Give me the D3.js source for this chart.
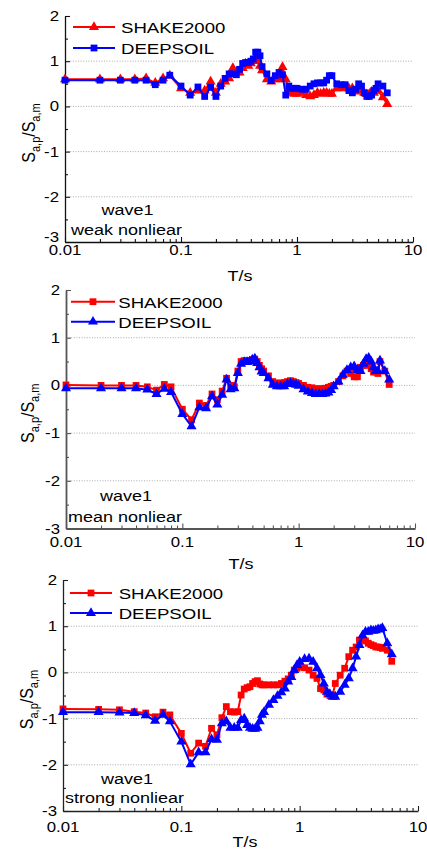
<!DOCTYPE html>
<html><head><meta charset="utf-8">
<script src="https://cdn.jsdelivr.net/npm/d3@7"></script>
<style>body{margin:0;background:#fff}svg{display:block}text{font-family:"Liberation Sans",Arial,sans-serif;fill:#000}</style>
</head><body><svg id="c" width="427" height="851"></svg>
<script>
// ---------- data ----------
const periods = [0.01,0.02,0.03,0.04,0.05,0.06,0.07,0.08,0.1,0.12,0.14,0.16,0.18,0.2,0.22,0.24,0.26,0.28,0.3,0.32,0.34,0.36,0.38,0.4,0.42,0.44,0.46,0.48,0.5,0.55,0.6,0.65,0.7,0.75,0.8,0.85,0.9,0.95,1.0,1.1,1.2,1.3,1.4,1.5,1.6,1.7,1.8,1.9,2.0,2.2,2.4,2.6,2.8,3.0,3.2,3.4,3.6,3.8,4.0,4.2,4.4,4.6,4.8,5.0,5.5,6.0];

const weakShake = [0.60,0.60,0.60,0.60,0.62,0.52,0.62,0.68,
 0.40,0.30,0.35,0.35,0.55,0.30,0.50,0.55,
 0.62,0.85,0.75,0.75,0.85,0.95,0.90,0.95,
 1.00,1.05,1.00,0.90,0.80,0.60,0.55,0.60,
 0.60,0.87,0.60,0.35,0.30,0.28,0.28,0.30,
 0.25,0.22,0.25,0.30,0.28,0.30,0.30,0.28,
 0.28,0.40,0.40,0.42,0.40,0.40,0.33,0.42,
 0.35,0.30,0.27,0.28,0.32,0.30,0.35,0.35,
 0.20,0.05];
const weakDeep = [0.58,0.58,0.58,0.58,0.58,0.48,0.58,0.69,
 0.45,0.25,0.43,0.22,0.42,0.22,0.45,0.62,
 0.72,0.72,0.70,0.82,0.95,0.97,0.97,1.00,
 1.05,1.20,1.20,1.12,0.88,0.72,0.57,0.68,
 0.75,0.70,0.25,0.45,0.40,0.40,0.40,0.38,
 0.38,0.45,0.50,0.52,0.52,0.52,0.58,0.68,
 0.68,0.50,0.48,0.48,0.35,0.30,0.38,0.50,
 0.45,0.30,0.22,0.22,0.25,0.35,0.40,0.50,
 0.45,0.30];
const meanShake = [0.01,0.00,0.00,0.00,-0.03,-0.10,0.02,-0.03,
 -0.50,-0.72,-0.37,-0.42,-0.18,-0.30,-0.12,0.15,
 0.00,-0.03,0.30,0.50,0.52,0.52,0.52,0.54,
 0.55,0.50,0.42,0.35,0.30,0.20,0.08,0.05,
 0.05,0.06,0.08,0.10,0.08,0.06,0.04,0.00,
 -0.04,-0.05,-0.07,-0.07,-0.07,-0.06,-0.04,-0.02,
 0.00,0.08,0.20,0.30,0.25,0.18,0.18,0.38,
 0.42,0.42,0.45,0.35,0.28,0.28,0.25,0.50,
 0.30,0.02];
const meanDeep = [-0.06,-0.06,-0.06,-0.06,-0.09,-0.18,-0.07,-0.14,
 -0.60,-0.86,-0.46,-0.48,-0.23,-0.40,-0.20,0.12,
 -0.08,-0.06,0.26,0.45,0.49,0.49,0.50,0.54,
 0.56,0.47,0.38,0.29,0.26,0.15,0.01,-0.02,
 -0.02,-0.02,0.03,0.05,0.03,0.01,-0.01,-0.08,
 -0.13,-0.16,-0.18,-0.18,-0.18,-0.17,-0.15,-0.10,
 -0.02,0.08,0.22,0.32,0.38,0.40,0.32,0.30,
 0.45,0.55,0.58,0.50,0.38,0.30,0.30,0.52,
 0.30,0.12];
const strongShake = [-0.79,-0.80,-0.81,-0.85,-0.88,-0.96,-0.86,-0.92,
 -1.32,-1.75,-1.53,-1.60,-1.21,-1.35,-0.98,-0.74,
 -0.85,-0.86,-0.85,-0.49,-0.36,-0.33,-0.31,-0.24,
 -0.20,-0.18,-0.25,-0.27,-0.27,-0.27,-0.27,-0.27,
 -0.24,-0.19,-0.14,-0.06,0.05,0.09,0.12,0.10,
 0.05,-0.06,-0.13,-0.35,-0.38,-0.47,-0.50,-0.49,
 -0.24,-0.06,0.09,0.34,0.48,0.55,0.70,0.73,
 0.68,0.63,0.60,0.58,0.55,0.55,0.54,0.52,
 0.48,0.24];
const strongDeep = [-0.86,-0.86,-0.87,-0.88,-0.93,-1.05,-0.92,-1.06,
 -1.50,-1.99,-1.73,-1.73,-1.45,-1.46,-1.10,-1.06,
 -1.20,-1.20,-1.20,-1.03,-1.00,-1.14,-1.20,-1.22,
 -1.22,-1.20,-1.06,-0.92,-0.86,-0.70,-0.60,-0.51,
 -0.43,-0.35,-0.20,-0.10,0.05,0.16,0.23,0.29,
 0.30,0.23,0.09,-0.06,-0.24,-0.42,-0.47,-0.53,
 -0.53,-0.42,-0.27,-0.13,0.09,0.34,0.59,0.80,
 0.88,0.88,0.91,0.90,0.91,0.93,0.93,0.96,
 0.63,0.39];

const seriesNames = ["SHAKE2000","DEEPSOIL"];
const yTicks = [-3,-2,-1,0,1,2];
const yTickLabels = ["-3","-2","-1","0","1","2"];
const yMinor = [-2.5,-1.5,-0.5,0.5,1.5];
const yGrid = [-2,-1,0,1];
const xTicks = [0.01,0.1,1,10];
const xTickLabels = ["0.01","0.1","1","10"];
const xLabel = "T/s";
const waveLabel = "wave1";
const caseLabels = ["weak nonliear","mean nonliear","strong nonliear"];

// ---------- layout ----------
const panels = [
 {left:65,right:413,top:16,bottom:242, shake:weakShake, deep:weakDeep, shakeSym:"tri", deepSym:"sq",
  axisColor:"#111", axisW:1.3, legY:[27,48], legX:[73,115], legTX:121,
  xtBase:255, xlBase:281, xlX:240, ytEnd:59, ylX:35, waveXY:[101.5,215], caseXY:[71,235], lastDy:0},
 {left:66,right:415,top:290,bottom:528.5, shake:meanShake, deep:meanDeep, shakeSym:"sq", deepSym:"tri",
  axisColor:"#555", axisW:1.8, legY:[301.7,321.7], legX:[71,115], legTX:118.3,
  xtBase:547, xlBase:569, xlX:241, ytEnd:60, ylX:34, waveXY:[100,501], caseXY:[68,521.7], lastDy:5},
 {left:63,right:418,top:580,bottom:811, shake:strongShake, deep:strongDeep, shakeSym:"sq", deepSym:"tri",
  axisColor:"#222", axisW:1.3, legY:[593,613], legX:[70,112], legTX:118.7,
  xtBase:832, xlBase:847, xlX:245, ytEnd:57, ylX:33, waveXY:[101,784], caseXY:[65,803], lastDy:5}
];
const SX = 1.2; // horizontal stretch of the original picture
const RED = "#ff0000", BLUE = "#0000ff";

const svg = d3.select("#c");

function stext(g, x, y, str, size, anchor){
  return g.append("text").attr("transform",`translate(${x},${y}) scale(${SX},1)`)
    .attr("font-size",size).attr("text-anchor",anchor||"start").text(str);
}
function sym(kind){
  return kind==="tri" ? d3.symbol().type(d3.symbolTriangle).size(44)()
                      : d3.symbol().type(d3.symbolSquare).size(46)();
}

panels.forEach((p,i)=>{
  const g = svg.append("g");
  const x = d3.scaleLog().domain([0.01,10]).range([p.left,p.right]);
  const y = d3.scaleLinear().domain([-3,2]).range([p.bottom,p.top]);

  // grid
  g.selectAll(".grid").data(yGrid).join("line")
    .attr("x1",p.left).attr("x2",p.right).attr("y1",d=>y(d)).attr("y2",d=>y(d))
    .attr("stroke","#aaa").attr("stroke-width",1).attr("stroke-dasharray","1,1.6");

  // axes (ticks inward)
  const minorX = [];
  [0.01,0.1,1].forEach(dec=>{for(let k=2;k<=9;k++) minorX.push(dec*k);});
  const ax = g.append("g").attr("transform",`translate(0,${p.bottom})`);
  ax.call(d3.axisBottom(x).tickValues(xTicks).tickSize(-5).tickSizeOuter(0).tickFormat(""));
  ax.append("g").call(d3.axisBottom(x).tickValues(minorX).tickSize(-3).tickSizeOuter(0).tickFormat(""))
    .select(".domain").remove();
  const ay = g.append("g").attr("transform",`translate(${p.left},0)`);
  ay.call(d3.axisLeft(y).tickValues(yTicks).tickSize(-5).tickSizeOuter(0).tickFormat(""));
  ay.append("g").call(d3.axisLeft(y).tickValues(yMinor).tickSize(-3).tickSizeOuter(0).tickFormat(""))
    .select(".domain").remove();
  g.selectAll(".domain").attr("stroke",p.axisColor).attr("stroke-width",p.axisW);
  g.selectAll(".tick line").attr("stroke",p.axisColor).attr("stroke-width",1.1);

  // tick labels
  yTicks.forEach((v,j)=>stext(g,p.ytEnd,y(v)+(j===0?p.lastDy:5),yTickLabels[j],14,"end"));
  xTicks.forEach((v,j)=>stext(g,x(v),p.xtBase,xTickLabels[j],14,"middle"));
  stext(g,p.xlX,p.xlBase,xLabel,15,"middle");

  // y axis label
  const yl = g.append("text")
    .attr("transform",`translate(${p.ylX},${(p.top+p.bottom)/2+4}) rotate(-90) scale(1,${SX})`)
    .attr("text-anchor","middle").attr("font-size",16);
  yl.append("tspan").text("S");
  yl.append("tspan").attr("font-size",11).attr("dy",4).text("a,p");
  yl.append("tspan").attr("dy",-4).text("/S");
  yl.append("tspan").attr("font-size",11).attr("dy",4).text("a,m");

  // series
  const line = d3.line().x((d,k)=>x(periods[k])).y(d=>y(d));
  const series = [{vals:p.shake,color:RED,sym:p.shakeSym},{vals:p.deep,color:BLUE,sym:p.deepSym}];
  series.forEach(s=>{
    g.append("path").datum(s.vals).attr("d",line).attr("fill","none")
      .attr("stroke",s.color).attr("stroke-width",2).attr("stroke-linejoin","round");
    g.selectAll(null).data(s.vals).join("path")
      .attr("transform",(d,k)=>`translate(${x(periods[k])},${y(d)})`)
      .attr("d",sym(s.sym)).attr("fill",s.color);
  });

  // legend
  series.forEach((s,k)=>{
    const ly = p.legY[k];
    g.append("line").attr("x1",p.legX[0]).attr("x2",p.legX[1]).attr("y1",ly).attr("y2",ly)
      .attr("stroke",s.color).attr("stroke-width",2);
    g.append("path").attr("transform",`translate(${(p.legX[0]+p.legX[1])/2},${ly})`)
      .attr("d",sym(s.sym)).attr("fill",s.color);
    stext(g,p.legTX,ly+6,seriesNames[k],15.5,"start");
  });

  // annotations
  stext(g,p.waveXY[0],p.waveXY[1],waveLabel,15,"start");
  stext(g,p.caseXY[0],p.caseXY[1],caseLabels[i],15,"start");
});
</script></body></html>
